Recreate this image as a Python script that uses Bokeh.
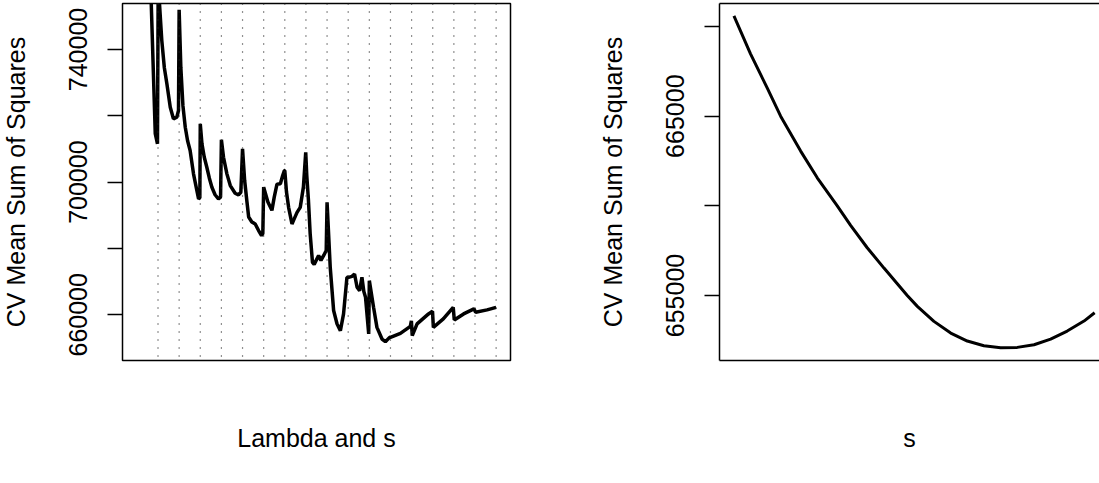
from bokeh.plotting import figure
from bokeh.layouts import row
from bokeh.models import Span, FixedTicker, Range1d, LinearAxis
from bokeh.embed import file_html
from bokeh.resources import INLINE

# ---------------- data ----------------
# left panel: CV mean sum of squares over the (lambda, s) grid; x = position index
lam_s_index = [0.0, 0.4, 0.68, 0.87, 0.975,
               1.02, 1.07, 1.18, 1.3, 1.42, 1.58, 1.73, 1.89, 1.97,
               2.0, 2.08, 2.18, 2.29, 2.4, 2.52, 2.68, 2.84, 2.92, 2.98,
               3.0, 3.08, 3.19, 3.31, 3.43, 3.55, 3.7, 3.86, 3.96,
               4.0, 4.1, 4.26, 4.42, 4.65, 4.81, 4.92,
               5.0, 5.1, 5.21, 5.29, 5.44, 5.6, 5.76, 5.9, 5.96,
               6.0, 6.2, 6.39, 6.5, 6.63, 6.79, 6.9, 6.98,
               7.0, 7.08, 7.18, 7.34, 7.45, 7.58, 7.73, 7.88, 7.99,
               8.04, 8.12, 8.2, 8.31, 8.39, 8.6, 8.71, 8.84, 8.96,
               9.0, 9.15, 9.31, 9.47, 9.63, 9.78, 9.94,
               10.02, 10.18, 10.3, 10.42, 10.54, 10.65, 10.74, 10.82, 10.97,
               11.0, 11.2, 11.36, 11.6, 11.76, 11.96,
               12.0, 12.47, 12.94, 12.99,
               13.03, 13.26, 13.8, 13.99,
               14.03, 14.5, 14.97,
               15.02, 15.46, 15.95,
               16.03, 16.57, 17.0]
cv_mss_lambda_s = [840000, 790000, 753900, 714600, 711550,
                   775000, 753800, 742700, 734500, 729650, 722600, 719100, 719580, 721600,
                   751980, 734660, 723000, 716560, 712500, 709530, 702500, 697470, 694960, 695300,
                   717590, 711550, 707500, 704490, 701200, 698460, 696200, 694960, 695500,
                   712760, 707510, 702500, 698970, 696650, 696170, 696950,
                   710050, 700500, 694000, 689500, 688000, 687400, 685400, 683900, 684500,
                   698500, 694000, 691500, 695500, 699400, 699500, 702000, 703500,
                   703500, 697000, 692400, 687400, 689000, 690900, 692400, 698500, 709000,
                   702000, 694400, 684500, 675800, 675200, 677900, 676400, 677900, 679400,
                   693900, 674300, 661300, 657300, 655200, 660300, 671300,
                   671300, 671600, 672300, 668300, 667300, 671300, 667000, 665300, 654240,
                   670300, 662300, 656200, 652700, 651900, 653200,
                   653200, 654400, 656500, 658200,
                   653700, 657250, 660270, 661060,
                   656230, 658760, 662260,
                   658460, 660270, 661800,
                   660750, 661480, 662260]
s_group_starts = list(range(1, 18))
left_ticks = [660000, 680000, 700000, 720000, 740000]
left_tick_labels = {660000: "660000", 680000: "", 700000: "700000", 720000: "", 740000: "740000"}

# right panel: CV mean sum of squares against s
s_values = [1.000, 1.092, 1.185, 1.259, 1.370, 1.462, 1.573, 1.647, 1.739, 1.832,
            1.961, 2.017, 2.109, 2.202, 2.294, 2.386, 2.479, 2.571, 2.664, 2.756,
            2.848, 2.941, 3.000]
cv_mss_s = [670595, 668477, 666563, 665000, 663051, 661565, 660000, 658908, 657663, 656529,
            655000, 654393, 653557, 652906, 652460, 652200, 652089, 652107, 652256, 652572,
            653018, 653575, 654040]
right_ticks = [655000, 660000, 665000, 670000]
right_tick_labels = {655000: "655000", 660000: "", 665000: "665000", 670000: ""}

FONT = "Liberation Sans"
FS = "25px"
YLAB = "CV Mean Sum of Squares"


def style_yaxis(ax, ticks, labels):
    ax.ticker = FixedTicker(ticks=ticks)
    ax.major_label_overrides = labels
    ax.major_label_orientation = "vertical"
    ax.major_label_text_font = FONT
    ax.major_label_text_font_size = FS
    ax.major_label_text_color = "black"
    ax.major_label_standoff = 20
    ax.major_tick_in = 0
    ax.major_tick_out = 15
    ax.major_tick_line_color = "black"
    ax.major_tick_line_width = 1.5
    ax.minor_tick_line_color = None
    ax.axis_label = YLAB
    ax.axis_label_text_font = FONT
    ax.axis_label_text_font_size = FS
    ax.axis_label_text_font_style = "normal"
    ax.axis_label_text_color = "black"
    ax.axis_label_standoff = 37


def style_xaxis(ax, label):
    ax.ticker = FixedTicker(ticks=[])
    ax.major_tick_in = 0
    ax.major_tick_out = 0
    ax.minor_tick_line_color = None
    ax.major_label_text_font_size = "0px"
    ax.axis_label = label
    ax.axis_label_text_font = FONT
    ax.axis_label_text_font_size = FS
    ax.axis_label_text_font_style = "normal"
    ax.axis_label_text_color = "black"
    ax.axis_label_standoff = 63


# ---------------- left panel ----------------
p1 = figure(width=600, height=473, output_backend="svg", toolbar_location=None,
            x_range=Range1d(-0.68, 17.68), y_range=Range1d(646222, 753870),
            min_border_left=142, min_border_right=70, min_border_top=3, min_border_bottom=113)
p1.grid.visible = False
p1.background_fill_color = "white"
p1.border_fill_color = "white"
p1.outline_line_color = "black"
p1.outline_line_width = 1.5
style_yaxis(p1.yaxis[0], left_ticks, left_tick_labels)
p1.yaxis[0].axis_line_color = None
style_xaxis(p1.xaxis[0], "Lambda and s")
p1.xaxis[0].axis_line_color = None
for k in s_group_starts:
    p1.add_layout(Span(location=k, dimension="height", line_color="#222222",
                       line_width=1.2, line_dash="1 7"))
p1.line(lam_s_index, cv_mss_lambda_s, line_color="black", line_width=3.5)

# ---------------- right panel ----------------
p2 = figure(width=519, height=473, output_backend="svg", toolbar_location=None,
            x_range=Range1d(0.92, 3.027), y_range=Range1d(651376, 671282),
            min_border_left=139, min_border_right=0, min_border_top=3, min_border_bottom=113)
p2.grid.visible = False
p2.background_fill_color = "white"
p2.border_fill_color = "white"
p2.outline_line_color = None
style_yaxis(p2.yaxis[0], right_ticks, right_tick_labels)
p2.yaxis[0].axis_line_color = "black"
p2.yaxis[0].axis_line_width = 1.5
style_xaxis(p2.xaxis[0], "s")
p2.xaxis[0].axis_line_color = "black"
p2.xaxis[0].axis_line_width = 1.5
top_axis = LinearAxis(ticker=FixedTicker(ticks=[]), major_tick_in=0, major_tick_out=0,
                      minor_tick_line_color=None, major_label_text_font_size="0px",
                      axis_line_color="black", axis_line_width=1.5)
p2.add_layout(top_axis, "above")
p2.line(s_values, cv_mss_s, line_color="black", line_width=3)

layout = row(p1, p2, margin=(0, 0, 0, -20))
open("out.html", "w").write(file_html(layout, INLINE))
